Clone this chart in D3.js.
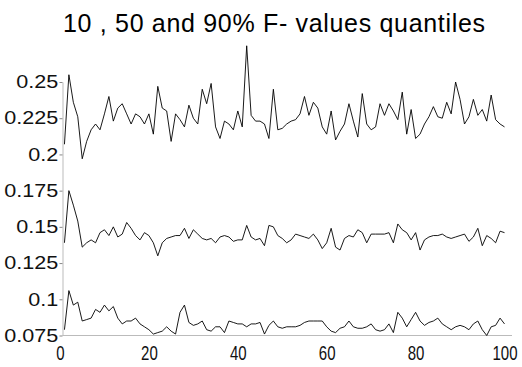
<!DOCTYPE html>
<html>
<head>
<meta charset="utf-8">
<script src="https://cdn.jsdelivr.net/npm/d3@7"></script>
<style>
  body { margin: 0; background: #fff; }
</style>
</head>
<body>
<div id="chart"></div>
<script>
// quantiles of the F-values, one value per run 1..100
var q90 = [0.207, 0.255, 0.236, 0.226, 0.197, 0.209, 0.217, 0.221, 0.217, 0.228,
           0.240, 0.223, 0.232, 0.235, 0.228, 0.221, 0.228, 0.226, 0.221, 0.228,
           0.214, 0.247, 0.232, 0.230, 0.209, 0.228, 0.224, 0.219, 0.234, 0.225,
           0.221, 0.245, 0.235, 0.249, 0.219, 0.211, 0.223, 0.221, 0.217, 0.230,
           0.219, 0.275, 0.227, 0.223, 0.223, 0.221, 0.211, 0.245, 0.217, 0.218,
           0.221, 0.223, 0.224, 0.228, 0.240, 0.227, 0.236, 0.232, 0.219, 0.214,
           0.230, 0.210, 0.216, 0.221, 0.235, 0.223, 0.212, 0.242, 0.221, 0.217,
           0.219, 0.235, 0.227, 0.235, 0.230, 0.224, 0.243, 0.214, 0.231, 0.211,
           0.214, 0.221, 0.226, 0.233, 0.226, 0.225, 0.236, 0.228, 0.250, 0.238,
           0.221, 0.226, 0.238, 0.227, 0.231, 0.223, 0.241, 0.224, 0.221, 0.219]

var q50 = [0.139, 0.175, 0.165, 0.154, 0.136, 0.139, 0.141, 0.139, 0.146, 0.148,
           0.144, 0.150, 0.143, 0.145, 0.153, 0.149, 0.144, 0.141, 0.146, 0.144,
           0.139, 0.130, 0.139, 0.142, 0.143, 0.144, 0.144, 0.149, 0.142, 0.148,
           0.145, 0.142, 0.141, 0.142, 0.139, 0.143, 0.144, 0.143, 0.140, 0.141,
           0.141, 0.151, 0.143, 0.141, 0.142, 0.137, 0.151, 0.150, 0.144, 0.142,
           0.139, 0.141, 0.145, 0.144, 0.143, 0.142, 0.145, 0.141, 0.135, 0.139,
           0.149, 0.136, 0.134, 0.142, 0.144, 0.143, 0.148, 0.146, 0.139, 0.145,
           0.145, 0.145, 0.145, 0.146, 0.139, 0.152, 0.148, 0.146, 0.141, 0.146,
           0.134, 0.141, 0.143, 0.144, 0.144, 0.145, 0.143, 0.142, 0.143, 0.144,
           0.145, 0.140, 0.143, 0.149, 0.137, 0.144, 0.142, 0.139, 0.147, 0.146]

var q10 = [0.079, 0.106, 0.096, 0.098, 0.085, 0.086, 0.087, 0.093, 0.091, 0.096,
           0.092, 0.095, 0.087, 0.083, 0.085, 0.085, 0.087, 0.083, 0.081, 0.079,
           0.076, 0.077, 0.078, 0.081, 0.078, 0.076, 0.091, 0.096, 0.084, 0.082,
           0.083, 0.085, 0.079, 0.078, 0.081, 0.081, 0.077, 0.085, 0.084, 0.083,
           0.083, 0.081, 0.083, 0.083, 0.084, 0.076, 0.082, 0.085, 0.081, 0.080,
           0.081, 0.081, 0.081, 0.082, 0.084, 0.085, 0.085, 0.085, 0.085, 0.081,
           0.078, 0.077, 0.080, 0.081, 0.085, 0.081, 0.080, 0.080, 0.081, 0.083,
           0.079, 0.078, 0.079, 0.083, 0.077, 0.091, 0.087, 0.081, 0.086, 0.091,
           0.085, 0.082, 0.084, 0.085, 0.087, 0.083, 0.081, 0.079, 0.081, 0.082,
           0.081, 0.079, 0.083, 0.085, 0.079, 0.075, 0.081, 0.082, 0.087, 0.083]

var x_ticks = [0, 20, 40, 60, 80, 100]
var y_ticks = [0.075, 0.1, 0.125, 0.15, 0.175, 0.2, 0.225, 0.25]
var title = "10 , 50 and 90% F- values quantiles"

function draw_quantiles() {
  var width = 522,
      height = 367

  var x = d3.scaleLinear()
      .domain([0, 100])
      .range([60, 504.5])
  var y = d3.scaleLinear()
      .domain([0.075, 0.25])
      .range([335.5, 82])

  var svg = d3.select("#chart").append("svg")
      .attr("width", width)
      .attr("height", height)
      .style("font-family", "'DejaVu Sans', sans-serif")

  svg.append("text")
      .attr("x", 63)
      .attr("y", 32)
      .attr("textLength", 422)
      .attr("lengthAdjust", "spacing")
      .style("font-family", "'Liberation Sans', Arial, sans-serif")
      .style("font-size", "25px")
      .text(title)

  // y axis, thin grey line with small ticks
  var y_axis = svg.append("g")
      .attr("transform", "translate(62.5,0)")
      .call(d3.axisLeft(y)
        .tickValues(y_ticks)
        .tickSize(3)
        .tickSizeOuter(0)
        .tickFormat(function(d) { return String(d) }))
  y_axis.select(".domain").attr("stroke", "#bbb")
  y_axis.selectAll(".tick line").attr("stroke", "#888")
  y_axis.selectAll(".tick text")
      .attr("x", -3.5)
      .attr("fill", "#111")
      .style("font-size", "18px")
      .attr("transform", "scale(1.2,1)")

  // x axis labels, baseline line at the 0.075 level
  var x_axis = svg.append("g")
      .attr("transform", "translate(0," + y(0.075) + ")")
      .call(d3.axisBottom(x)
        .tickValues(x_ticks)
        .tickSize(0)
        .tickSizeOuter(0))
  x_axis.select(".domain")
      .attr("d", "M62.5,0H512")
      .attr("stroke", "#bbb")
  x_axis.selectAll(".tick text")
      .attr("y", 0)
      .attr("dy", 0)
      .attr("fill", "#111")
      .style("font-size", "15px")
      .attr("transform", "translate(0,24) scale(1,1.38)")

  var line = d3.line()
      .x(function(d, i) { return x(i + 1) })
      .y(function(d) { return y(d) })

  svg.selectAll("path.quantile")
      .data([q90, q50, q10]).enter()
        .append("path")
          .classed("quantile", true)
          .attr("d", line)
          .attr("fill", "none")
          .attr("stroke", "#000")
          .attr("stroke-width", 0.9)
          .attr("stroke-linejoin", "round")
}

draw_quantiles()
</script>
</body>
</html>
